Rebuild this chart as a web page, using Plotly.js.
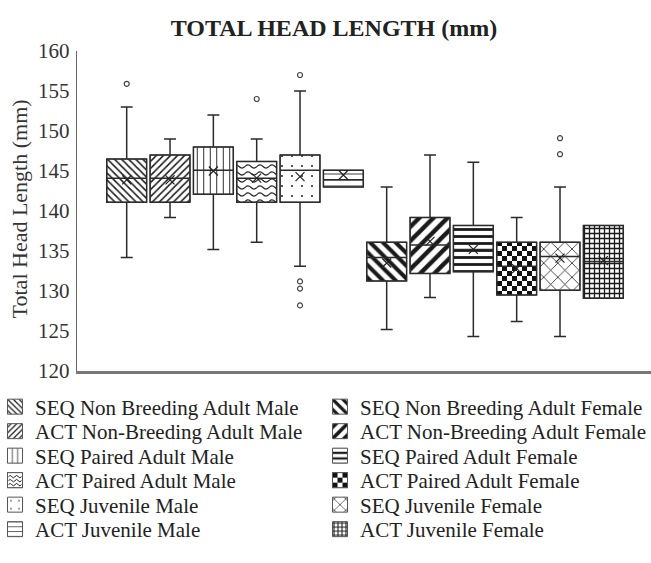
<!DOCTYPE html>
<html>
<head>
<meta charset="utf-8">
<script src="https://cdn.plot.ly/plotly-3.0.1.min.js"></script>
<style>
  html, body { margin: 0; padding: 0; background: #fff; }
  #chart { width: 651px; height: 563px; }
</style>
</head>
<body>
<div id="chart"></div>
<script>
// ---- Data ----
const groups = [
  "SEQ Non Breeding Adult Male",
  "ACT Non-Breeding Adult Male",
  "SEQ Paired Adult Male",
  "ACT Paired Adult Male",
  "SEQ Juvenile Male",
  "ACT Juvenile Male",
  "SEQ Non Breeding Adult Female",
  "ACT Non-Breeding Adult Female",
  "SEQ Paired Adult Female",
  "ACT Paired Adult Female",
  "SEQ Juvenile Female",
  "ACT Juvenile Female"
];
const lowerWhisker = [134.2, 139.2, 135.2, 136.1, 133.1, 143.0, 125.2, 129.2, 124.3, 126.2, 124.3, 129.1];
const q1Values     = [141.1, 141.1, 142.1, 141.1, 141.1, 143.0, 131.25, 132.2, 132.4, 129.5, 130.1, 129.1];
const medianValues = [144.1, 144.1, 145.1, 144.1, 145.1, 143.9, 134.2, 135.75, 135.2, 133.1, 134.3, 133.7];
const q3Values     = [146.5, 147.0, 148.0, 146.2, 147.0, 145.1, 136.1, 139.2, 138.2, 136.1, 136.1, 138.2];
const upperWhisker = [153.0, 149.0, 152.0, 149.0, 155.0, 145.1, 143.0, 147.0, 146.1, 139.2, 143.0, 138.2];
const meanValues   = [143.9, 143.9, 145.0, 144.1, 144.3, 144.5, 133.5, 136.2, 135.2, 132.8, 134.1, 133.8];
const outliers = [
  [155.9], [], [], [154.0], [157.0, 131.2, 130.3, 128.2], [],
  [], [], [], [], [147.1, 149.1], []
];
const yTicks = [120, 125, 130, 135, 140, 145, 150, 155, 160];
const chartTitle = "TOTAL HEAD LENGTH (mm)";
const yTitle = "Total Head Length (mm)";

// ---- Styles ----
const FONT = "Liberation Serif, Times New Roman, serif";
const patterns = [
  {shape: "\\", size: 5, solidity: 0.3},
  {shape: "/", size: 5, solidity: 0.3},
  {shape: "|", size: 6.5, solidity: 0.14},
  {shape: "-", size: 6, solidity: 0.18},    // replaced by custom wave
  {shape: ".", size: 10, solidity: 0.03},
  {shape: "-", size: 6, solidity: 0.14},
  {shape: "\\", size: 9, solidity: 0.45},
  {shape: "/", size: 10, solidity: 0.45},
  {shape: "-", size: 7, solidity: 0.4},
  {shape: "+", size: 8, solidity: 0.6},     // replaced by custom checker
  {shape: "x", size: 10, solidity: 0.15},
  {shape: "+", size: 5, solidity: 0.45}
];
const customFill = {3: "wavePat", 9: "checkPat"};
const BOXW = 0.92;
const legendRowsY = [407, 431.5, 456, 480.5, 505, 529.5];
const legendColX = [0, 325];

const traces = [];
const layoutLegends = {};
groups.forEach((name, k) => {
  const pos = k + 1;
  const legId = k === 0 ? "legend" : "legend" + (k + 1);
  const col = k < 6 ? 0 : 1, row = k % 6;
  layoutLegends[legId] = {
    xref: "container", x: legendColX[col] / 651, xanchor: "left",
    yref: "container", y: 1 - legendRowsY[row] / 563, yanchor: "middle",
    indentation: -5,
    font: {family: FONT, size: 21, color: "#222"},
    bgcolor: "rgba(0,0,0,0)",
    itemclick: false, itemdoubleclick: false
  };
  traces.push({
    type: "bar",
    name: name,
    legend: legId,
    x: [pos],
    base: [q1Values[k]],
    y: [q3Values[k] - q1Values[k]],
    width: BOXW,
    marker: {
      color: "#ffffff",
      line: {color: "#555", width: 1},
      pattern: Object.assign({fgcolor: "#1a1a1a", bgcolor: "#ffffff", fillmode: "replace"}, patterns[k])
    },
    hoverinfo: "skip"
  });
});
groups.forEach((name, k) => {
  const pos = k + 1;
  traces.push({
    type: "box",
    name: name,
    x: [pos],
    q1: [q1Values[k]],
    median: [medianValues[k]],
    q3: [q3Values[k]],
    lowerfence: [lowerWhisker[k]],
    upperfence: [upperWhisker[k]],
    width: BOXW,
    whiskerwidth: 0.3,
    fillcolor: "rgba(0,0,0,0)",
    line: {color: "#2a2a2a", width: 1.5},
    boxpoints: false,
    showlegend: false,
    hoverinfo: "skip"
  });
});
// mean markers
traces.push({
  type: "scatter",
  mode: "markers",
  x: groups.map((g, k) => k + 1),
  y: meanValues,
  marker: {symbol: "x-thin-open", size: 9, color: "#222", line: {color: "#222", width: 1.2}},
  showlegend: false,
  hoverinfo: "skip"
});
// outliers
const ox = [], oy = [];
outliers.forEach((arr, k) => arr.forEach(v => { ox.push(k + 1); oy.push(v); }));
traces.push({
  type: "scatter",
  mode: "markers",
  x: ox,
  y: oy,
  marker: {symbol: "circle-open", size: 5, color: "#444", line: {color: "#444", width: 1.2}},
  showlegend: false,
  hoverinfo: "skip"
});

const layout = Object.assign({
  width: 651,
  height: 563,
  margin: {l: 77, r: 0, t: 51, b: 192, pad: 0, autoexpand: false},
  paper_bgcolor: "#ffffff",
  plot_bgcolor: "#ffffff",
  barmode: "overlay",
  font: {family: FONT, color: "#222", size: 20},
  title: {
    text: chartTitle,
    font: {family: FONT, size: 24, color: "#222", weight: "bold"},
    xref: "container", x: 0.513, xanchor: "center",
    yref: "container", y: 0.951, yanchor: "middle"
  },
  xaxis: {
    range: [-0.147, 13.1],
    showticklabels: false,
    ticks: "",
    showgrid: false,
    zeroline: false,
    showline: true,
    linecolor: "#777",
    linewidth: 2.5,
    fixedrange: true
  },
  yaxis: {
    range: [120, 160],
    tickvals: yTicks,
    ticktext: yTicks.map(String),
    ticks: "outside",
    ticklen: 2,
    tickcolor: "rgba(0,0,0,0)",
    showgrid: false,
    zeroline: false,
    showline: true,
    linecolor: "#666",
    linewidth: 1.2,
    tickfont: {family: FONT, size: 21, color: "#333"},
    fixedrange: true
  },
  annotations: [{
    text: yTitle,
    xref: "paper", x: (19 - 77) / 574, xanchor: "center",
    yref: "paper", y: 0.505, yanchor: "middle",
    textangle: -90,
    showarrow: false,
    font: {family: FONT, size: 22, color: "#333"}
  }],
  showlegend: true
}, layoutLegends);

const NS = "http://www.w3.org/2000/svg";
const SQ = "M7.5,7.5H-7.5V-7.5H7.5Z";
function waveSym() {
  let s = '<rect x="-7.5" y="-7.5" width="15" height="15" fill="#fff"/>';
  [-3.5, 0.5, 4.5].forEach(y => {
    s += '<path d="M-6.5,' + y + ' q1.6,-2.4 3.25,0 t3.25,0 t3.25,0 t3.25,0" stroke="#222" stroke-width="1" fill="none"/>';
  });
  s += '<rect x="-7.5" y="-7.5" width="15" height="15" fill="none" stroke="#555" stroke-width="1"/>';
  return s;
}
function checkSym() {
  let s = '<rect x="-7.5" y="-7.5" width="15" height="15" fill="#fff"/>';
  for (let i = 0; i < 3; i++) for (let j = 0; j < 3; j++) {
    if ((i + j) % 2 === 0) s += '<rect x="' + (-7.5 + 5 * i) + '" y="' + (-7.5 + 5 * j) + '" width="5" height="5" fill="#111"/>';
  }
  s += '<rect x="-7.5" y="-7.5" width="15" height="15" fill="none" stroke="#555" stroke-width="1"/>';
  return s;
}

function ensurePatterns(svg) {
  if (!svg || document.getElementById("wavePat")) return;
  let defs = svg.querySelector("defs");
  if (!defs) { defs = document.createElementNS(NS, "defs"); svg.insertBefore(defs, svg.firstChild); }
  const addPat = (id, w, h, inner) => {
    const p = document.createElementNS(NS, "pattern");
    p.setAttribute("id", id);
    p.setAttribute("patternUnits", "userSpaceOnUse");
    p.setAttribute("width", w);
    p.setAttribute("height", h);
    p.innerHTML = inner;
    defs.appendChild(p);
  };
  addPat("wavePat", 12, 7,
    '<rect width="12" height="7" fill="#fff"/>' +
    '<path d="M0,3.5 Q3,0.3 6,3.5 T12,3.5" stroke="#222" stroke-width="1.1" fill="none"/>');
  addPat("checkPat", 10, 10,
    '<rect width="10" height="10" fill="#fff"/>' +
    '<rect x="0" y="0" width="5" height="5" fill="#111"/>' +
    '<rect x="5" y="5" width="5" height="5" fill="#111"/>');
}

function decorate(gd) {
  try {
    const svg = gd.querySelector("svg.main-svg");
    if (!svg) return;
    ensurePatterns(svg);
    const barTraces = gd.querySelectorAll(".barlayer .trace");
    Object.keys(customFill).forEach(k => {
      const t = barTraces[+k];
      if (t) t.querySelectorAll("path").forEach(p => { p.style.setProperty("fill", "url(#" + customFill[k] + ")", "important"); });
    });
    const lps = Array.from(gd.querySelectorAll(".legendpoints"));
    lps.forEach((lp, order) => {
      const tr = lp.closest("g.traces");
      const txt = tr ? tr.querySelector(".legendtext") : null;
      let idx = txt ? groups.indexOf((txt.textContent || "").trim()) : -1;
      if (idx < 0 && lps.length === groups.length) idx = order;
      const own = Array.from(lp.querySelectorAll("path")).filter(p => !p.closest(".customsym"));
      own.forEach(p => {
        if (p.getAttribute("d") !== SQ) p.setAttribute("d", SQ);
      });
      const path = own[0];
      if (customFill[idx] !== undefined && !lp.querySelector(".customsym")) {
        const g = document.createElementNS(NS, "g");
        g.setAttribute("class", "customsym");
        if (path && path.getAttribute("transform")) g.setAttribute("transform", path.getAttribute("transform"));
        g.innerHTML = customFill[idx] === "wavePat" ? waveSym() : checkSym();
        lp.appendChild(g);
      }
    });
  } catch (e) { console.error(e); }
}

Plotly.newPlot("chart", traces, layout, {displayModeBar: false, staticPlot: true}).then(gd => {
  decorate(gd);
  let n = 0;
  const iv = setInterval(() => { decorate(gd); if (++n > 100) clearInterval(iv); }, 30);
});
</script>
</body>
</html>
